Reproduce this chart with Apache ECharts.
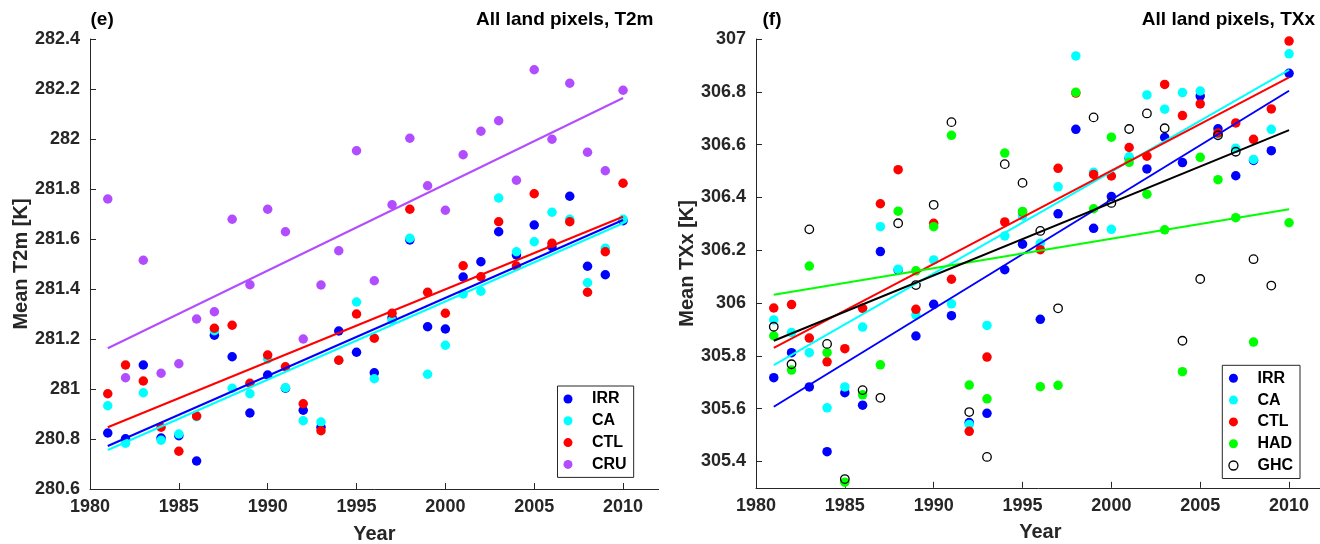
<!DOCTYPE html>
<html>
<head>
<meta charset="utf-8">
<script src="https://cdn.jsdelivr.net/npm/echarts@6/dist/echarts.min.js"></script>
<style>html,body{margin:0;padding:0;background:#fff;}#c{width:1320px;height:544px;}</style>
</head>
<body>
<div id="c"></div>
<script>
// ---------- data ----------
const years = [1981,1982,1983,1984,1985,1986,1987,1988,1989,1990,1991,1992,1993,1994,1995,
               1996,1997,1998,1999,2000,2001,2002,2003,2004,2005,2006,2007,2008,2009,2010];
const xTicks = [1980,1985,1990,1995,2000,2005,2010];
const yTicksT2m = [280.6,280.8,281,281.2,281.4,281.6,281.8,282,282.2,282.4];
const yTicksTXx = [305.4,305.6,305.8,306,306.2,306.4,306.6,306.8,307];

// Panel (e): mean T2m [K]
const irrT2m = [280.824,280.801,281.096,280.804,280.813,280.712,281.215,281.129,280.904,281.056,
                281.003,280.915,280.847,281.232,281.147,281.065,281.285,281.596,281.249,281.240,
                281.448,281.509,281.629,281.536,281.656,281.569,281.771,281.491,281.457,281.673];
const caT2m  = [280.933,280.783,280.985,280.795,280.820,280.889,281.233,281.003,280.981,281.120,
                281.005,280.873,280.868,281.115,281.348,281.041,281.275,281.603,281.059,281.175,
                281.380,281.391,281.764,281.549,281.589,281.707,281.679,281.425,281.563,281.679];
const ctlT2m = [280.981,281.096,281.032,280.847,280.751,280.892,281.243,281.255,281.023,281.136,
                281.089,280.941,280.833,281.115,281.300,281.203,281.303,281.719,281.387,281.303,
                281.493,281.449,281.669,281.492,281.781,281.583,281.669,281.387,281.549,281.823];
const cruT2m = [281.760,281.045,281.515,281.063,281.101,281.280,281.309,281.679,281.417,281.719,
                281.629,281.200,281.416,281.553,281.953,281.433,281.737,282.003,281.813,281.715,
                281.937,282.031,282.073,281.835,282.277,281.999,282.223,281.947,281.873,282.195];
// trend lines (value at 1981, value at 2010)
const fitYears = [1981, 2010];
const irrT2mFit = [280.772, 281.676];
const caT2mFit  = [280.756, 281.663];
const ctlT2mFit = [280.847, 281.689];
const cruT2mFit = [281.163, 282.164];

// Panel (f): mean TXx [K]
const irrTXx = [305.717,305.812,305.682,305.437,305.660,305.613,306.195,306.125,305.875,305.995,
                305.952,305.547,305.582,306.126,306.223,305.938,306.338,306.658,306.283,306.403,
                306.548,306.508,306.627,306.532,306.784,306.660,306.482,306.540,306.577,306.870];
const caTXx  = [305.936,305.888,305.812,305.603,305.682,305.909,306.289,306.128,305.955,306.163,
                305.997,305.540,305.915,306.254,306.330,306.226,306.440,306.936,306.495,306.279,
                306.554,306.788,306.734,306.797,306.803,306.640,306.586,306.544,306.658,306.944];
const ctlTXx = [305.981,305.994,305.867,305.777,305.827,305.980,306.376,306.505,305.976,306.302,
                306.090,305.514,305.795,306.307,306.345,306.202,306.510,306.795,306.487,306.481,
                306.589,306.556,306.828,306.710,306.754,306.644,306.682,306.620,306.735,306.992];
const hadTXx = [305.876,305.746,306.140,305.812,305.321,305.652,305.766,306.348,306.122,306.289,
                306.635,305.689,305.637,306.568,306.347,305.683,305.688,306.798,306.357,306.628,
                306.533,306.412,306.277,305.740,306.552,306.467,306.323,305.852,null,306.304];
const ghcTXx = [305.910,305.768,306.279,305.845,305.333,305.670,305.641,306.302,306.068,306.372,
                306.685,305.587,305.417,306.526,306.455,306.273,305.980,null,306.703,306.379,
                306.659,306.718,306.662,305.857,306.091,306.635,306.573,306.166,306.066,null];
const irrTXxFit = [305.607, 306.804];
const caTXxFit  = [305.765, 306.883];
const ctlTXxFit = [305.830, 306.855];
const hadTXxFit = [306.031, 306.355];
const ghcTXxFit = [305.857, 306.655];

// ---------- styling ----------
const FONT = 'Liberation Sans, Arial, Helvetica, sans-serif';
const AX = '#262626';
const C = {IRR:'#0000FF', CA:'#00FFFF', CTL:'#FF0000', CRU:'#B24DFF', HAD:'#00FF00', GHC:'#000000'};

function pts(arr){ return years.map((y,i)=>[y,arr[i]]).filter(p=>p[1]!==null); }
function fit(arr){ return fitYears.map((y,i)=>[y,arr[i]]); }
function fmt(v){ return String(Math.round(v*10)/10); }

function scatter(name, arr, idx){
  const s = {type:'scatter', name:name, xAxisIndex:idx, yAxisIndex:idx, data:pts(arr),
             symbol:'circle', symbolSize:9.5, itemStyle:{color:C[name], opacity:1}, emphasis:{disabled:true}, z:2};
  if(name==='GHC'){ s.symbolSize=8.5; s.itemStyle={color:'rgba(0,0,0,0)', borderColor:'#000', borderWidth:1.3, opacity:1}; s.z=3; }
  return s;
}
function trend(name, arr, idx){
  return {type:'line', name:name+' fit', xAxisIndex:idx, yAxisIndex:idx, data:fit(arr),
          symbol:'none', silent:true, lineStyle:{color:C[name], width:2}, itemStyle:{color:C[name]}, z:4};
}
function xAxis(idx){
  return {type:'value', gridIndex:idx, min:1980, max:2012,
    name:'Year', nameLocation:'middle', nameGap:35,
    nameTextStyle:{fontSize:20, fontWeight:'bold', color:AX, fontFamily:FONT},
    axisLine:{show:true, onZero:false, lineStyle:{color:AX, width:1}},
    axisTick:{show:true, inside:true, length:6, customValues:xTicks, lineStyle:{color:AX, width:1}},
    axisLabel:{customValues:xTicks, formatter:(v)=>String(v), fontSize:18, fontWeight:'bold', color:AX, fontFamily:FONT, margin:9},
    splitLine:{show:false}};
}
function yAxis(idx, min, max, ticks, name){
  return {type:'value', gridIndex:idx, min:min, max:max,
    name:name, nameLocation:'middle', nameGap:57,
    nameTextStyle:{fontSize:20, fontWeight:'bold', color:AX, fontFamily:FONT},
    axisLine:{show:true, onZero:false, lineStyle:{color:AX, width:1}},
    axisTick:{show:true, inside:true, length:6, customValues:ticks, lineStyle:{color:AX, width:1}},
    axisLabel:{customValues:ticks, formatter:fmt, fontSize:18, fontWeight:'bold', color:AX, fontFamily:FONT, margin:10},
    splitLine:{show:false}};
}
function legend(names, left, top){
  return {show:true, left:left, top:top, orient:'vertical', padding:[4,7,4,6], itemGap:3.8,
    itemWidth:38, itemHeight:9, backgroundColor:'#fff', borderColor:AX, borderWidth:1, borderRadius:0,
    selectedMode:false, icon:'circle',
    textStyle:{fontSize:16, fontWeight:'bold', color:'#000', fontFamily:FONT, lineHeight:18},
    data:names.map(n=> n==='GHC'
      ? {name:n, icon:'circle', itemStyle:{color:'rgba(0,0,0,0)', borderColor:'#000', borderWidth:1.3}}
      : {name:n, icon:'circle'})};
}
function title(text, pos){
  return Object.assign({text:text, top:10, padding:0,
    textStyle:{fontSize:19, fontWeight:'bold', color:'#000', fontFamily:FONT}}, pos);
}

const option = {
  backgroundColor:'#fff',
  animation:false,
  title:[ title('(e)', {left:90.5}), title('All land pixels, T2m', {right:666.5}),
          title('(f)', {left:762.5}), title('All land pixels, TXx', {right:5}) ],
  grid:[ {left:90, top:39, width:568.6, height:450, containLabel:false, outerBoundsMode:'none'},
         {left:756, top:39, width:568.6, height:448.8, containLabel:false, outerBoundsMode:'none'} ],
  xAxis:[ xAxis(0), xAxis(1) ],
  yAxis:[ yAxis(0, 280.6, 282.4, yTicksT2m, 'Mean T2m [K]'),
          yAxis(1, 305.3, 307, yTicksTXx, 'Mean TXx [K]') ],
  legend:[ legend(['IRR','CA','CTL','CRU'], 557.5, 386),
           legend(['IRR','CA','CTL','HAD','GHC'], 1222.3, 365.3) ],
  series:[
    scatter('IRR', irrT2m, 0), scatter('CA', caT2m, 0), scatter('CTL', ctlT2m, 0), scatter('CRU', cruT2m, 0),
    trend('IRR', irrT2mFit, 0), trend('CA', caT2mFit, 0), trend('CTL', ctlT2mFit, 0), trend('CRU', cruT2mFit, 0),
    scatter('IRR', irrTXx, 1), scatter('CA', caTXx, 1), scatter('CTL', ctlTXx, 1), scatter('HAD', hadTXx, 1), scatter('GHC', ghcTXx, 1),
    trend('IRR', irrTXxFit, 1), trend('CA', caTXxFit, 1), trend('CTL', ctlTXxFit, 1), trend('HAD', hadTXxFit, 1), trend('GHC', ghcTXxFit, 1)
  ]
};
const chart = echarts.init(document.getElementById('c'), null, {renderer:'canvas'});
chart.setOption(option);
</script>
</body>
</html>
